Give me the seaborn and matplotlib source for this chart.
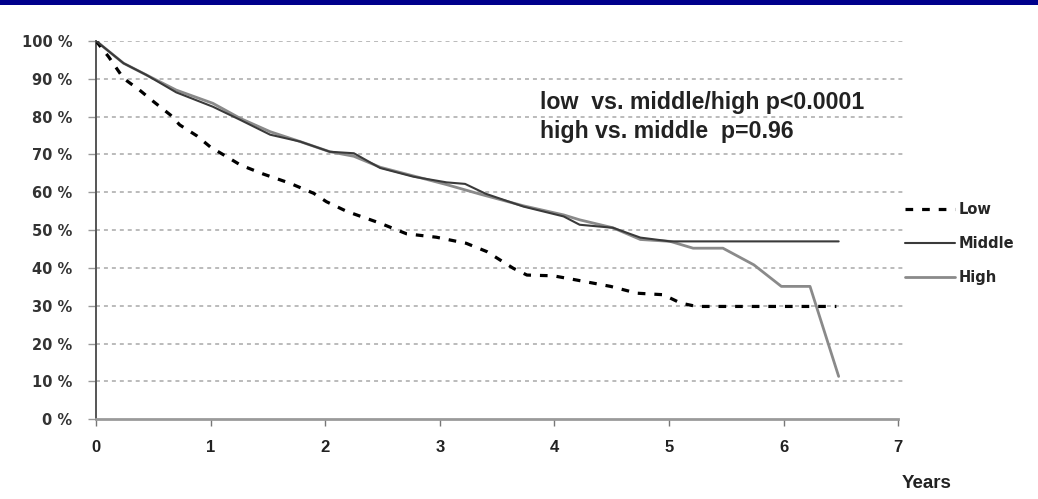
import matplotlib
matplotlib.use("Agg")
import matplotlib.pyplot as plt
from matplotlib import font_manager
from matplotlib.patches import Rectangle
import numpy as np
import pandas as pd
import seaborn as sns

# Survival by group (years, percent surviving)
low_years = [0, 0.11, 0.24, 0.38, 0.50, 0.65, 0.73, 0.88, 1.00, 1.14, 1.26, 1.46, 1.69,
             1.90, 2.01, 2.19, 2.48, 2.71, 2.97, 3.23, 3.41, 3.64, 3.76, 3.99, 4.19,
             4.49, 4.72, 4.95, 5.10, 5.24, 6.46]
low_surv = [100, 95.8, 90.1, 87.0, 84.0, 80.4, 77.8, 74.9, 71.9, 69.4, 67.2, 64.8, 62.4,
            59.7, 57.5, 54.9, 51.8, 49.0, 48.1, 46.5, 44.3, 39.9, 38.1, 37.9, 36.8,
            35.1, 33.3, 32.9, 30.7, 29.8, 29.8]

middle_years = [0, 0.24, 0.44, 0.70, 1.02, 1.26, 1.52, 1.78, 2.04, 2.25, 2.48, 2.77,
                3.06, 3.22, 3.40, 3.73, 4.08, 4.22, 4.51, 4.75, 5.01, 6.48]
middle_surv = [100, 94.1, 91.0, 86.4, 82.6, 79.1, 75.2, 73.4, 70.7, 70.3, 66.4, 64.1,
               62.6, 62.2, 59.6, 56.2, 53.6, 51.4, 50.6, 48.0, 47.0, 47.0]

high_years = [0, 0.24, 0.44, 0.70, 1.02, 1.26, 1.52, 1.78, 2.04, 2.25, 2.48, 2.77, 3.06,
              3.35, 3.73, 4.08, 4.22, 4.51, 4.75, 5.01, 5.21, 5.47, 5.74, 5.98, 6.23, 6.48]
high_surv = [100, 94.1, 91.0, 87.0, 83.5, 79.5, 76.0, 73.4, 70.7, 69.5, 66.6, 64.3, 62.0,
             59.5, 56.4, 54.0, 52.7, 50.6, 47.5, 47.0, 45.2, 45.2, 40.8, 35.1, 35.1, 11.3]

group_labels = ["Low", "Middle", "High"]
x_ticks = [0, 1, 2, 3, 4, 5, 6, 7]
y_ticks = [0, 10, 20, 30, 40, 50, 60, 70, 80, 90, 100]
y_tick_labels = [f"{v} %" for v in y_ticks]
annotations = ["low  vs. middle/high p<0.0001", "high vs. middle  p=0.96"]
x_label = "Years"

sns.set_theme(style="white")
names = {f.name for f in font_manager.fontManager.ttflist}
narrow = "Liberation Sans"
for cand in ("Liberation Sans Narrow", "DejaVu Sans Condensed"):
    if cand in names:
        narrow = cand
        break
plt.rcParams["font.family"] = ["Liberation Sans", "DejaVu Sans"]

fig = plt.figure(figsize=(10.38, 4.99), dpi=100)
ax = fig.add_axes([0.0925, 0.160, 0.7795, 0.758])

# navy band across the top edge
fig.patches.append(Rectangle((0, 0.99), 1, 0.01, transform=fig.transFigure,
                             facecolor="#00008c", edgecolor="none", zorder=10))

low_df = pd.DataFrame({"years": low_years, "surv": low_surv})
mid_df = pd.DataFrame({"years": middle_years, "surv": middle_surv})
high_df = pd.DataFrame({"years": high_years, "surv": high_surv})

sns.lineplot(data=low_df, x="years", y="surv", ax=ax, sort=False, estimator=None,
             color="black", linewidth=2.3, linestyle=(0, (2.4, 2.8)),
             label=group_labels[0], zorder=4)
sns.lineplot(data=mid_df, x="years", y="surv", ax=ax, sort=False, estimator=None,
             color="#3a3a3a", linewidth=1.5, label=group_labels[1], zorder=4)
sns.lineplot(data=high_df, x="years", y="surv", ax=ax, sort=False, estimator=None,
             color="#8a8a8a", linewidth=2.0, label=group_labels[2], zorder=3)

ax.set_xlim(0, 7.06)
ax.set_ylim(0, 100)
ax.set_xticks(x_ticks)
ax.set_xticklabels([str(t) for t in x_ticks], fontfamily=narrow, fontweight="bold",
                   fontsize=12, color="#222222")
ax.set_yticks(y_ticks)
ax.set_yticklabels(y_tick_labels, fontfamily="DejaVu Sans", fontweight="bold",
                   fontsize=10.5, color="#333333")
ax.set_xlabel("")
ax.set_ylabel("")

for y in y_ticks[1:]:
    ax.axhline(y, color="#a8a8a8", linewidth=1.1, linestyle=(0, (2.6, 2.6)), zorder=1)

ax.tick_params(axis="y", direction="out", length=6, width=1, color="#999999", pad=11, left=True)
ax.tick_params(axis="x", direction="out", length=5, width=1, color="#777777", pad=10, bottom=True)

for side in ("top", "right"):
    ax.spines[side].set_visible(False)
ax.spines["left"].set_color("#555555")
ax.spines["left"].set_linewidth(1.4)
ax.spines["bottom"].set_color("#9a9a9a")
ax.spines["bottom"].set_linewidth(2.0)
ax.spines["bottom"].set_bounds(0, 7)

ax.text(3.87, 83.6, annotations[0], fontsize=16.7, fontweight="bold",
        color="#222222", va="center", ha="left")
ax.text(3.87, 76.0, annotations[1], fontsize=16.7, fontweight="bold",
        color="#222222", va="center", ha="left")

fig.text(0.893, 0.032, x_label, fontfamily=narrow, fontweight="bold", fontsize=13.5,
         color="#222222", ha="center", va="center")

ax.legend(loc="center left", bbox_to_anchor=(0.872, 0.512), bbox_transform=fig.transFigure,
          frameon=False, prop={"family": "DejaVu Sans", "weight": "bold", "size": 10.5},
          handlelength=3.4, handletextpad=0.3, labelspacing=1.3, borderpad=0,
          borderaxespad=0)

fig.savefig("out.png", dpi=100)
